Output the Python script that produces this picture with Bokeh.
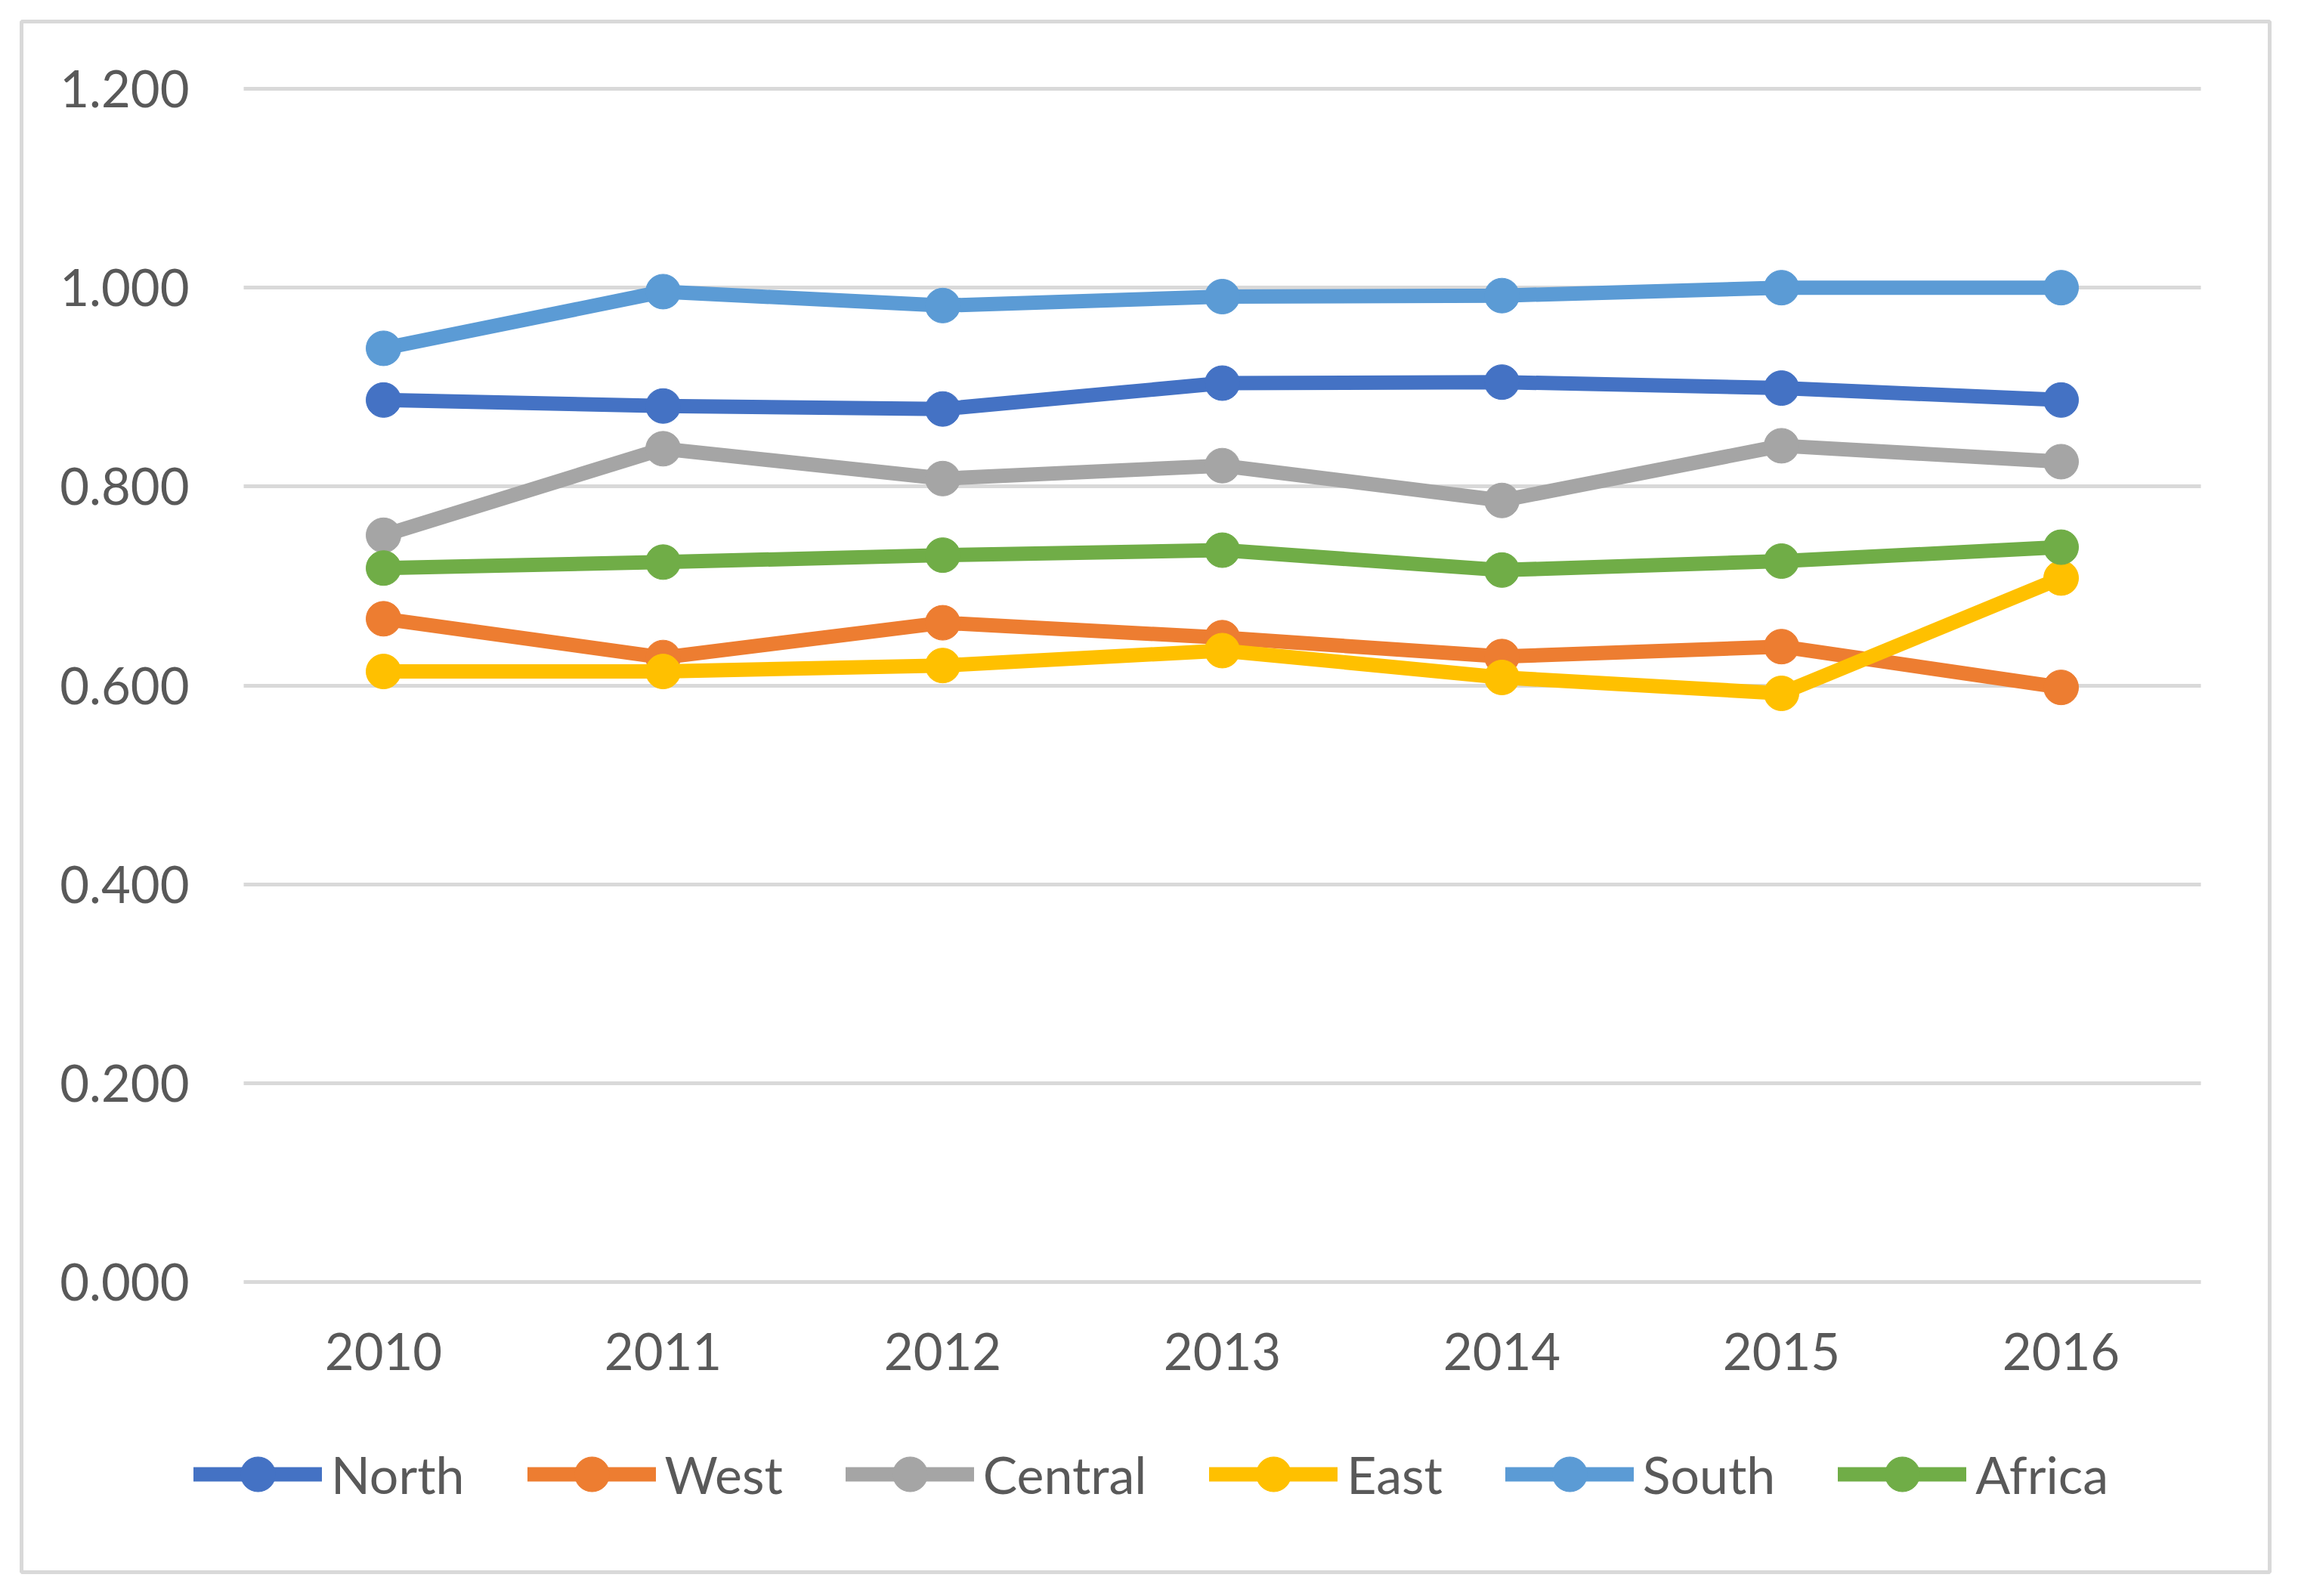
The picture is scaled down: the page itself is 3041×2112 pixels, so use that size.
from bokeh.plotting import figure
from bokeh.models import Legend, LegendItem, FixedTicker, NumeralTickFormatter, Range1d
from bokeh.embed import file_html
from bokeh.resources import INLINE

years = [2010, 2011, 2012, 2013, 2014, 2015, 2016]
north = [0.887, 0.881, 0.878, 0.904, 0.905, 0.899, 0.887]
west = [0.667, 0.628, 0.663, 0.648, 0.629, 0.639, 0.598]
central = [0.751, 0.838, 0.808, 0.821, 0.786, 0.841, 0.825]
east = [0.614, 0.614, 0.620, 0.635, 0.608, 0.592, 0.708]
south = [0.939, 0.996, 0.982, 0.991, 0.992, 1.000, 1.000]
africa = [0.718, 0.724, 0.731, 0.736, 0.716, 0.725, 0.739]
y_ticks = [0.0, 0.2, 0.4, 0.6, 0.8, 1.0, 1.2]

series = [
    ("North", north, "#4472C4"),
    ("West", west, "#ED7D31"),
    ("Central", central, "#A5A5A5"),
    ("East", east, "#FFC000"),
    ("South", south, "#5B9BD5"),
    ("Africa", africa, "#70AD47"),
]

FONT = "Lato"
FS = "67px"
LFS = "68px"
TXT = "#595959"

# layout (screen pixels, frame = chart border box)
FW, FH = 2975, 2052          # frame size
PX_PER_YEAR = 370.0
FIRST_X = 479.0              # px from frame left to first category centre
ZERO_Y = 384.0               # px from frame bottom to value 0
PX_PER_UNIT = 1579.0 / 1.2

x0 = years[0] - FIRST_X / PX_PER_YEAR
x1 = x0 + FW / PX_PER_YEAR
y0 = -ZERO_Y / PX_PER_UNIT
y1 = y0 + FH / PX_PER_UNIT

p = figure(
    x_range=Range1d(x0, x1),
    y_range=Range1d(y0, y1),
    width=3018, height=2100,
    output_backend="svg", toolbar_location=None,
    min_border_left=28, min_border_right=15,
    min_border_top=28, min_border_bottom=20,
)
p.outline_line_color = "#D9D9D9"
p.outline_line_width = 5
p.background_fill_color = "white"
p.border_fill_color = "white"

p.xgrid.grid_line_color = None
p.ygrid.grid_line_color = "#D9D9D9"
p.ygrid.grid_line_width = 5
p.ygrid.ticker = FixedTicker(ticks=y_ticks)
try:
    p.ygrid.cross_bounds = (years[0] - 0.5, years[-1] + 0.5)
except Exception:
    pass

p.yaxis.ticker = FixedTicker(ticks=y_ticks)
p.yaxis.formatter = NumeralTickFormatter(format="0.000")
p.xaxis.ticker = FixedTicker(ticks=years)
for ax in (p.xaxis[0], p.yaxis[0]):
    ax.axis_line_color = None
    ax.major_tick_line_color = None
    ax.minor_tick_line_color = None
    ax.major_tick_out = 0
    ax.major_tick_in = 0
    ax.major_label_text_font = FONT
    ax.major_label_text_font_size = FS
    ax.major_label_text_color = TXT
p.yaxis.major_label_standoff = -222
p.xaxis.major_label_standoff = -317

items = []
for name, vals, color in series:
    l = p.line(years, vals, line_color=color, line_width=19, line_join="round", line_cap="round")
    s = p.scatter(years, vals, size=46, marker="circle", fill_color=color, line_color=color)
    items.append(LegendItem(label=name, renderers=[l, s]))

legend = Legend(
    items=items, orientation="horizontal", location=(228, 72),
    glyph_width=170, glyph_height=115, label_standoff=12, spacing=83,
    padding=0, margin=0, border_line_color=None, background_fill_alpha=0,
    label_text_font=FONT, label_text_font_size=LFS, label_text_color=TXT,
)
p.add_layout(legend, "center")

open("out.html", "w").write(file_html(p, INLINE))
